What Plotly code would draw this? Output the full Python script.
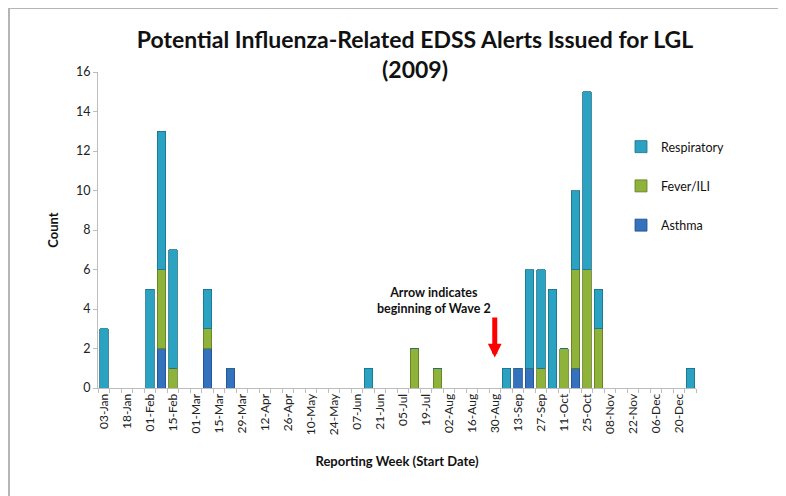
import plotly.graph_objects as go

weeks = ["03-Jan", "11-Jan", "18-Jan", "25-Jan", "01-Feb", "08-Feb", "15-Feb", "22-Feb",
         "01-Mar", "08-Mar", "15-Mar", "22-Mar", "29-Mar", "05-Apr", "12-Apr", "19-Apr",
         "26-Apr", "03-May", "10-May", "17-May", "24-May", "31-May", "07-Jun", "14-Jun",
         "21-Jun", "28-Jun", "05-Jul", "12-Jul", "19-Jul", "26-Jul", "02-Aug", "09-Aug",
         "16-Aug", "23-Aug", "30-Aug", "06-Sep", "13-Sep", "20-Sep", "27-Sep", "04-Oct",
         "11-Oct", "18-Oct", "25-Oct", "01-Nov", "08-Nov", "15-Nov", "22-Nov", "29-Nov",
         "06-Dec", "13-Dec", "20-Dec", "27-Dec"]

asthma = [0, 0, 0, 0, 0, 2, 0, 0, 0, 2, 0, 1, 0, 0, 0, 0, 0, 0, 0, 0, 0, 0, 0, 0, 0, 0,
          0, 0, 0, 0, 0, 0, 0, 0, 0, 0, 1, 1, 0, 0, 0, 1, 0, 0, 0, 0, 0, 0, 0, 0, 0, 0]
fever = [0, 0, 0, 0, 0, 4, 1, 0, 0, 1, 0, 0, 0, 0, 0, 0, 0, 0, 0, 0, 0, 0, 0, 0, 0, 0,
         0, 2, 0, 1, 0, 0, 0, 0, 0, 0, 0, 0, 1, 0, 2, 5, 6, 3, 0, 0, 0, 0, 0, 0, 0, 0]
respiratory = [3, 0, 0, 0, 5, 7, 6, 0, 0, 2, 0, 0, 0, 0, 0, 0, 0, 0, 0, 0, 0, 0, 0, 1, 0, 0,
               0, 0, 0, 0, 0, 0, 0, 0, 0, 1, 0, 5, 5, 5, 0, 4, 9, 2, 0, 0, 0, 0, 0, 0, 0, 1]

label_weeks = weeks[::2]

idx = list(range(len(weeks)))
label_idx = idx[::2]

FONT = "Lato"

fig = go.Figure()
series = [
    ("Asthma", asthma, "#3572be", "#1f4f8a", 3),
    ("Fever/ILI", fever, "#8fb33a", "#5e7a1f", 2),
    ("Respiratory", respiratory, "#2ca2c2", "#1b6f86", 1),
]
for name, vals, col, edge, rank in series:
    fig.add_trace(go.Bar(
        x=idx, y=vals, name=name, legendgroup=name, legendrank=rank,
        marker=dict(color=col, line=dict(color=edge, width=0.8)),
        customdata=weeks, hovertemplate="%{customdata}: %{y}<extra>" + name + "</extra>",
    ))

# page is offset by the 8px body margin
W, H = 778, 488
L, T = 90, 64
PW, PH = 598, 316

fig.update_layout(
    width=W, height=H,
    barmode="stack", bargap=0.26,
    paper_bgcolor="white", plot_bgcolor="white",
    margin=dict(l=L, r=W - L - PW, t=T, b=H - T - PH, autoexpand=False),
    font=dict(family=FONT, size=11, color="#222"),
    title=dict(text="<b>Potential Influenza-Related EDSS Alerts Issued for LGL<br>(2009)</b>",
               x=(415 - 8) / W, xanchor="center", y=1 - 39.8 / H, yanchor="top",
               font=dict(family=FONT, size=23, color="#111")),
    showlegend=True,
    legend=dict(traceorder="grouped", x=(613 - L) / PW, xanchor="left",
                y=1 - (132 - 8 - T) / PH, yanchor="top",
                tracegroupgap=20, font=dict(family=FONT, size=12.5, color="#111"),
                itemwidth=30, bgcolor="rgba(0,0,0,0)"),
    xaxis=dict(
        range=[-0.5, len(weeks) - 0.5],
        tickmode="array", tickvals=label_idx, ticktext=label_weeks,
        tickangle=-90, ticks="", showgrid=False, zeroline=False,
        showline=True, linecolor="#bdbdbd", linewidth=1,
        tickfont=dict(family=FONT, size=12, color="#222"),
        minor=dict(ticks="outside", ticklen=4, tickcolor="#bdbdbd", dtick=1, tick0=-0.5, showgrid=False),
        title=dict(text="<b>Reporting Week (Start Date)</b>", standoff=22,
                   font=dict(family=FONT, size=13, color="#111")),
    ),
    yaxis=dict(
        range=[0, 16], dtick=2, ticks="outside", ticklen=4, tickcolor="#bdbdbd",
        showgrid=False, zeroline=False, showline=True, linecolor="#bdbdbd", linewidth=1,
        tickfont=dict(family=FONT, size=12.5, color="#222"),
        title=dict(text="<b>Count</b>", standoff=14, font=dict(family=FONT, size=13, color="#111")),
    ),
    shapes=[dict(type="rect", xref="paper", yref="paper",
                 x0=-(L - 1) / PW, x1=1 + (783 - 8 - L - PW) / PW,
                 y0=-(H - T - PH + 20) / PH, y1=1 + (T - 0) / PH,
                 line=dict(color="#b5b5b5", width=2), fillcolor="rgba(0,0,0,0)", layer="below")],
    annotations=[
        dict(x=28.75, y=4.45, xref="x", yref="y", text="<b>Arrow indicates<br>beginning of Wave 2</b>",
             showarrow=False, font=dict(family=FONT, size=12.5, color="#111"), align="center"),
        dict(x=34, y=1.55, ax=34, ay=3.65, xref="x", yref="y", axref="x", ayref="y",
             text="", showarrow=True, arrowhead=2, arrowsize=0.55, arrowwidth=5,
             arrowcolor="#ff0000"),
    ],
)

fig.write_html("out.html")
